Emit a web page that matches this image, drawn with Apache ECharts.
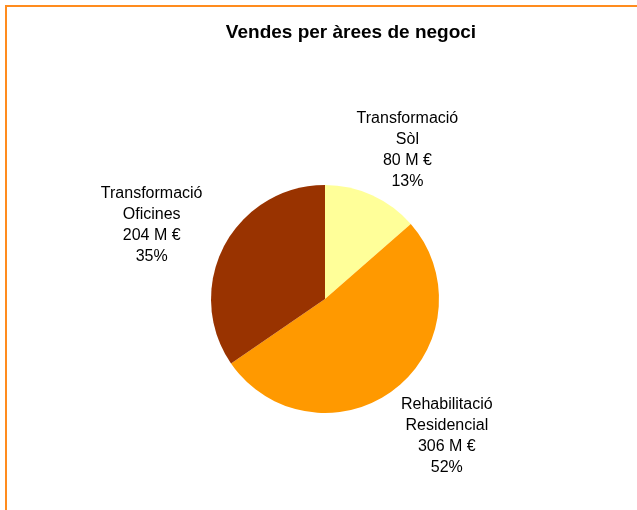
<!DOCTYPE html>
<html>
<head>
<meta charset="utf-8">
<script src="https://cdn.jsdelivr.net/npm/echarts@6/dist/echarts.min.js"></script>
<style>
  html, body { margin: 0; padding: 0; background: #fff; overflow: hidden; }
  .frame {
    position: absolute;
    left: 5px;
    top: 5px;
    width: 700px;
    height: 600px;
    border-left: 2px solid #ff8c1e;
    border-top: 2px solid #ff8c1e;
  }
  .pie__charts { position: absolute; left: 0; top: 0; width: 637px; height: 510px; }
</style>
</head>
<body>
<div class="frame"></div>
<div id="charts" class="pie__charts"></div>
<script>
// categories (clockwise from the top)
const categories = ["Transformació Sòl", "Rehabilitació Residencial", "Transformació Oficines"];
// sales, M €
const sales = [80, 306, 204];
// percentages as printed on the chart
const percents = [13, 52, 35];
const colors = ["#FFFF99", "#FF9900", "#993300"];

const center = [325, 299];
const radius = 114;
const total = sales.reduce((a, b) => a + b, 0);

// mid angle of each slice, clockwise from 12 o'clock
const midAngles = [];
let acc = 0;
sales.forEach((v) => {
  midAngles.push(((acc + v / 2) / total) * Math.PI * 2);
  acc += v;
});

const myCharts = echarts.init(document.getElementById("charts"));

const option = {
  backgroundColor: "transparent",
  animation: false,
  title: {
    text: "Vendes per àrees de negoci",
    left: 346,
    top: 18,
    textAlign: "center",
    textStyle: {
      fontFamily: "Liberation Sans",
      fontSize: 19,
      fontWeight: "bold",
      color: "#000",
    },
  },
  series: [
    {
      type: "pie",
      center: center,
      radius: radius,
      startAngle: 90,
      clockwise: true,
      data: categories.map((name, i) => ({
        name: name,
        value: sales[i],
        itemStyle: { color: colors[i] },
      })),
      itemStyle: { borderWidth: 0 },
      label: {
        show: true,
        position: "outside",
        fontFamily: "Liberation Sans",
        fontSize: 16,
        lineHeight: 21,
        color: "#000",
        align: "center",
        formatter: (p) =>
          p.name.replace(" ", "\n") + "\n" + p.value + " M €\n" + percents[p.dataIndex] + "%",
      },
      labelLine: { show: false },
      // labels sit on an ellipse around the pie, centred on each slice's mid angle
      labelLayout: (params) => {
        const a = midAngles[params.dataIndex];
        return {
          x: center[0] + 1 + 197 * Math.sin(a),
          y: center[1] + 4 - 168 * Math.cos(a),
          align: "center",
          verticalAlign: "middle",
        };
      },
      emphasis: { disabled: true },
    },
  ],
};
myCharts.setOption(option);
</script>
</body>
</html>
